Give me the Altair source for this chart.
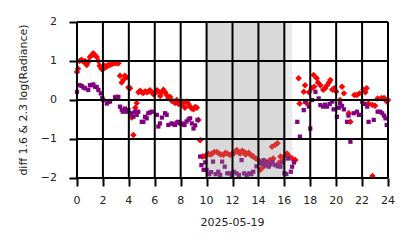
import altair as alt
import pandas as pd

# ---- data ----
red_hours = [0.0, 0.08, 0.2, 0.35, 0.5, 0.62, 0.75, 0.88, 1.0, 1.13, 1.26, 1.39, 1.52, 1.65, 1.75, 1.85,
             1.95, 2.05, 2.15, 2.28, 2.4, 2.55, 2.7, 2.82, 2.94, 3.07, 3.2, 3.32, 3.45, 3.58, 3.7, 3.83,
             3.97, 4.1, 4.22, 4.35, 4.5, 4.61, 4.74, 4.87, 5.0, 5.12, 5.25, 5.38, 5.51, 5.64, 5.77, 5.9,
             6.03, 6.16, 6.29, 6.42, 6.55, 6.67, 6.8, 6.92, 7.05, 7.19, 7.31, 7.44, 7.57, 7.7, 7.83, 7.96,
             8.08, 8.2, 8.33, 8.48, 8.6, 8.73, 8.86, 8.99, 9.12, 9.25, 9.37, 9.5, 9.7, 9.9,
             10.0, 10.15, 10.3, 10.45, 10.6, 10.8, 10.95, 11.1, 11.3, 11.45, 11.6, 11.8, 11.95, 12.1,
             12.2, 12.34, 12.5, 12.6, 12.75, 12.9, 13.0, 13.1, 13.25, 13.4, 13.5, 13.6, 13.8, 14.0,
             14.15, 14.3, 14.4, 14.55, 14.7, 14.9, 15.05, 15.15, 15.3, 15.48, 15.6, 15.7, 15.9, 16.05,
             16.2, 16.4, 16.6, 16.85,
             17.1, 17.18, 17.5, 17.6, 17.75, 17.9, 18.1, 18.26, 18.3, 18.5, 18.6, 18.78, 19.0, 19.15,
             19.3, 19.45, 19.55, 19.7, 19.85, 20.0, 20.3, 20.45, 20.6, 20.97, 21.1, 21.4, 21.6, 21.8,
             22.1, 22.25, 22.35, 22.5, 22.8, 22.8, 23.0, 23.2, 23.5, 23.7, 23.9, 24.0]
red_vals = [0.72, 0.8, 1.0, 1.03, 0.98, 1.0, 0.9, 0.98, 1.1, 1.15, 1.2, 1.15, 1.1, 1.0, 0.88, 0.82,
            0.78, 0.8, 0.88, 0.85, 0.9, 0.9, 0.92, 0.95, 0.94, 0.95, 0.94, 0.62, 0.45, 0.52, 0.62, 0.58,
            0.32, 0.3, -0.45, -0.9, -0.2, -0.08, 0.2, 0.24, 0.2, 0.18, 0.22, 0.2, 0.22, 0.25, 0.2, 0.15,
            0.18, 0.25, 0.22, 0.1, 0.2, 0.26, 0.2, 0.13, 0.05, 0.08, -0.02, -0.04, -0.08, 0.0, -0.1, -0.09,
            -0.12, -0.08, -0.2, -0.04, -0.1, -0.17, -0.22, -0.24, -0.18, -0.2, -0.51, -1.03, -1.45, -1.44,
            -1.41, -1.38, -1.4, -1.37, -1.33, -1.33, -1.37, -1.4, -1.41, -1.35, -1.37, -1.41, -1.38, -1.37,
            -1.32, -1.28, -1.35, -1.37, -1.3, -1.33, -1.4, -1.37, -1.35, -1.41, -1.43, -1.45, -1.5, -1.54,
            -1.79, -1.65, -1.71, -1.6, -1.58, -1.54, -1.2, -1.5, -1.15, -1.11, -1.6, -1.45, -1.54, -1.42,
            -1.37, -1.45, -1.5, -1.54,
            0.56, -0.09, 0.21, 0.38, -0.09, 0.2, 0.3, 0.64, 0.34, 0.56, 0.45, 0.38, 0.26, 0.3,
            0.38, 0.45, 0.51, 0.26, 0.3, 0.22, 0.0, 0.34, 0.17, -0.34, -0.56, 0.13, 0.13, 0.17,
            0.26, 0.2, 0.3, -0.09, -0.13, -1.95, -0.15, 0.04, 0.05, 0.05, -0.04, 0.0]

purple_hours = [0.0, 0.2, 0.36, 0.5, 0.62, 0.87, 1.0, 1.13, 1.26, 1.39, 1.52, 1.65, 1.83, 1.95, 2.03,
                2.3, 2.42, 2.55, 2.94, 3.07, 3.19, 3.32, 3.45, 3.53, 3.7, 3.83, 3.97, 4.1, 4.22, 4.35,
                4.48, 4.61, 4.73, 5.0, 5.12, 5.25, 5.38, 5.5, 5.64, 5.77, 6.16, 6.28, 6.4, 6.55, 6.8,
                6.92, 7.05, 7.3, 7.44, 7.57, 7.7, 7.8, 7.95, 8.07, 8.2, 8.3, 8.45, 8.6, 8.73, 8.86,
                8.99, 9.12, 9.3, 9.5, 9.6, 9.77, 9.9,
                10.0, 10.2, 10.35, 10.5, 10.7, 10.9, 11.05, 11.2, 11.4, 11.6, 11.8, 11.95, 12.1, 12.3,
                12.5, 12.7, 12.9, 13.1, 13.3, 13.45, 13.6, 13.85, 14.1, 14.25, 14.4, 14.5, 14.65, 14.8,
                14.95, 15.1, 15.3, 15.5, 15.7, 15.85, 16.0, 16.15, 16.3, 16.5, 16.6, 16.75,
                17.0, 17.2, 17.5, 17.6, 17.9, 18.0, 18.15, 18.4, 18.65, 18.78, 19.0, 19.15, 19.3, 19.5,
                19.7, 19.8, 20.06, 20.2, 20.3, 20.45, 20.6, 20.84, 20.95, 21.1, 21.35, 21.6, 21.75, 22.0,
                22.2, 22.4, 22.5, 22.9, 23.2, 23.4, 23.55, 23.7, 23.8, 23.9]
purple_vals = [0.21, 0.38, 0.36, 0.32, 0.3, 0.26, 0.38, 0.38, 0.4, 0.34, 0.33, 0.26, 0.17, 0.05, 0.0,
               -0.09, -0.05, -0.04, 0.07, 0.08, 0.08, -0.17, -0.25, -0.3, -0.22, -0.3, -0.26, -0.35, -0.34, -0.43,
               -0.3, -0.38, -0.3, -0.56, -0.56, -0.43, -0.47, -0.34, -0.32, -0.3, -0.38, -0.68, -0.6, -0.45, -0.34,
               -0.38, -0.64, -0.6, -0.62, -0.64, -0.58, -0.56, -0.6, -0.6, -0.62, -0.64, -0.55, -0.5, -0.47, -0.6,
               -0.73, -0.65, -0.51, -1.45, -1.67, -1.79, -1.6,
               -1.79, -1.9, -1.85, -1.58, -1.9, -1.84, -1.92, -1.58, -1.71, -1.88, -1.88, -1.92, -1.84, -1.88,
               -1.92, -1.54, -1.88, -1.92, -1.88, -1.9, -1.84, -1.7, -1.58, -1.62, -1.54, -1.67, -1.6, -1.71,
               -1.65, -1.58, -1.67, -1.7, -1.71, -1.6, -1.88, -1.9, -1.5, -1.84, -1.71, -1.6,
               -0.56, -0.94, -0.26, -0.04, -0.17, -0.73, 0.0, 0.21, 0.04, -0.13, -0.17, -0.12, -0.17, -0.1,
               -0.04, -0.24, -0.43, -0.2, -0.09, -0.15, -0.24, -0.56, -0.4, -1.07, -0.34, -0.3, -0.38, -0.04,
               -0.1, -0.17, -0.56, -0.51, -0.3, -0.3, -0.34, -0.4, -0.47, -0.64]

shade_start = [10.0, 10.0]
shade_end = [16.0, 16.6]

x_ticks = list(range(0, 25, 2))
x_tick_labels = [str(v) for v in x_ticks]
y_ticks = [-2, -1, 0, 1, 2]
y_tick_labels = ["\u22122", "\u22121", "0", "1", "2"]
x_title = ["2025-05-19"]
y_title = ["diff 1.6 & 2.3  log(Radiance)"]

red_df = pd.DataFrame({"hour": red_hours, "val": red_vals})
purple_df = pd.DataFrame({"hour": purple_hours, "val": purple_vals})
shade_df = pd.DataFrame({"start": shade_start, "end": shade_end})
xtick_df = pd.DataFrame({"t": x_ticks, "lab": x_tick_labels})
ytick_df = pd.DataFrame({"t": y_ticks, "lab": y_tick_labels})
xtitle_df = pd.DataFrame({"lab": x_title})
ytitle_df = pd.DataFrame({"lab": y_title})

FONT = "DejaVu Sans"
FS = 11
W, H = 311, 156
LW = 2.0
TXT = "#222222"

x_scale = alt.Scale(domain=[0, 24], nice=False, zero=False)
y_scale = alt.Scale(domain=[-2, 2], nice=False, zero=False)

common = dict(grid=False, domain=False, labels=False, title="", ticks=True, tickSize=8,
              tickColor="black", tickWidth=LW)
x_axis = alt.Axis(values=x_ticks, **common)
y_axis = alt.Axis(values=y_ticks, **common)

red = alt.Chart(red_df).mark_point(shape="diamond", filled=True, size=42, opacity=1,
                                   color="#ff0000").encode(
    x=alt.X("hour:Q", scale=x_scale, axis=x_axis),
    y=alt.Y("val:Q", scale=y_scale, axis=y_axis),
)

purple = alt.Chart(purple_df).mark_point(shape="square", filled=True, size=18, opacity=1,
                                         color="#800080").encode(
    x=alt.X("hour:Q", scale=x_scale, axis=x_axis),
    y=alt.Y("val:Q", scale=y_scale, axis=y_axis),
)

shade = alt.Chart(shade_df).mark_rect(color="#8d8d8d", opacity=0.19).encode(
    x=alt.X("start:Q", scale=x_scale, axis=x_axis),
    x2="end:Q",
)

xgrid = alt.Chart(xtick_df).mark_rule(color="black", strokeWidth=LW).encode(
    x=alt.X("t:Q", scale=x_scale, axis=x_axis),
)
ygrid = alt.Chart(ytick_df).mark_rule(color="black", strokeWidth=LW).encode(
    y=alt.Y("t:Q", scale=y_scale, axis=y_axis),
)

# tick labels and titles as text marks placed through the same scales
xlabels = alt.Chart(xtick_df).mark_text(font=FONT, fontSize=FS, color=TXT, align="center",
                                        baseline="middle").encode(
    x=alt.X("t:Q", scale=x_scale, axis=x_axis),
    y=alt.value(H + 23),
    text="lab:N",
)
ylabels = alt.Chart(ytick_df).mark_text(font=FONT, fontSize=FS, color=TXT, align="right",
                                        baseline="middle").encode(
    y=alt.Y("t:Q", scale=y_scale, axis=y_axis),
    x=alt.value(-20),
    text="lab:N",
)
xtitle = alt.Chart(xtitle_df).mark_text(font=FONT, fontSize=FS, color=TXT, align="center",
                                        baseline="middle").encode(
    x=alt.value(W / 2),
    y=alt.value(H + 45),
    text="lab:N",
)
ytitle = alt.Chart(ytitle_df).mark_text(font=FONT, fontSize=FS, color=TXT, align="center",
                                        baseline="middle", angle=270).encode(
    x=alt.value(-53),
    y=alt.value(H / 2),
    text="lab:N",
)

chart = alt.layer(red, purple, shade, xgrid, ygrid, xlabels, ylabels, xtitle, ytitle).properties(
    width=W, height=H,
    autosize=alt.AutoSizeParams(type="none"),
    padding={"left": 77, "top": 22, "right": 26, "bottom": 70},
).configure_view(
    stroke="#d0d0d0", strokeWidth=1
)

chart.save("out.html", embed_options={"renderer": "svg", "actions": False})
